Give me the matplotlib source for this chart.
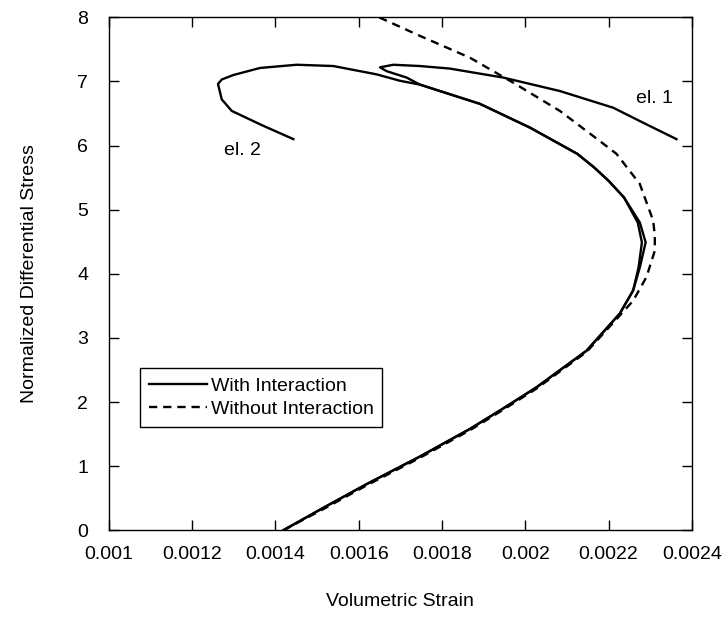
import matplotlib.pyplot as plt

plt.rcParams['font.family'] = ['Liberation Sans', 'DejaVu Sans']

# element 1, with interaction (volumetric strain, normalized stress)
el1_strain = [0.001419, 0.001515, 0.001619, 0.001747, 0.001867, 0.001947, 0.002027,
              0.002147, 0.002227, 0.002259, 0.002272, 0.002280, 0.002270, 0.002237, 0.002200,
              0.002165, 0.002125, 0.002011, 0.001891, 0.001819, 0.001747, 0.001715, 0.001667,
              0.001651, 0.001683, 0.001747, 0.001819, 0.001947, 0.002083, 0.002211, 0.002291,
              0.002363]
el1_stress = [0.0, 0.35, 0.72, 1.15, 1.58, 1.90, 2.23,
              2.80, 3.38, 3.74, 4.10, 4.49, 4.80, 5.19, 5.45,
              5.66, 5.87, 6.28, 6.65, 6.80, 6.95, 7.06, 7.16,
              7.22, 7.26, 7.24, 7.20, 7.06, 6.85, 6.59, 6.33,
              6.10]

# element 2, with interaction
el2_strain = [0.001419, 0.001515, 0.001619, 0.001747, 0.001867, 0.001947, 0.002027,
              0.002147, 0.002227, 0.002259, 0.002275, 0.002289, 0.002275, 0.002237, 0.002200,
              0.002165, 0.002125, 0.002011, 0.001891, 0.001819, 0.001747, 0.001699, 0.001643,
              0.001539, 0.001451, 0.001363, 0.001299, 0.001271, 0.001262, 0.001271, 0.001295,
              0.001370, 0.001443]
el2_stress = [0.0, 0.35, 0.72, 1.15, 1.58, 1.90, 2.23,
              2.80, 3.38, 3.74, 4.10, 4.49, 4.80, 5.19, 5.45,
              5.66, 5.87, 6.28, 6.65, 6.80, 6.95, 7.01, 7.11,
              7.24, 7.26, 7.21, 7.10, 7.03, 6.96, 6.72, 6.54,
              6.31, 6.10]

# without interaction
no_int_strain = [0.001419, 0.001515, 0.001619, 0.001747, 0.001867, 0.001947, 0.002027,
                 0.002147, 0.002227, 0.002259, 0.002291, 0.002311, 0.002311, 0.002307,
                 0.002275, 0.002219, 0.002179, 0.002083, 0.001971, 0.001867, 0.001747,
                 0.001659, 0.001630]
no_int_stress = [0.0, 0.33, 0.70, 1.13, 1.56, 1.88, 2.21,
                 2.78, 3.35, 3.58, 3.95, 4.36, 4.60, 4.83,
                 5.40, 5.87, 6.07, 6.54, 6.98, 7.37, 7.71,
                 7.97, 8.05]

x_ticks = [0.001, 0.0012, 0.0014, 0.0016, 0.0018, 0.002, 0.0022, 0.0024]
x_labels = ['0.001', '0.0012', '0.0014', '0.0016', '0.0018', '0.002', '0.0022', '0.0024']
y_ticks = [0, 1, 2, 3, 4, 5, 6, 7, 8]

fig = plt.figure(figsize=(7.26, 6.18), dpi=100)
ax = fig.add_axes([0.150, 0.142, 0.803, 0.830])

ax.plot(el1_strain, el1_stress, color='black', lw=1.7, label='With Interaction')
ax.plot(el2_strain, el2_stress, color='black', lw=1.7)
ax.plot(no_int_strain, no_int_stress, color='black', lw=1.7, dashes=(3.5, 2.5),
        label='Without Interaction')

ax.text(0.002311, 6.74, 'el. 1', fontsize=14, ha='center', va='center')
ax.text(0.001321, 5.93, 'el. 2', fontsize=14, ha='center', va='center')

ax.set_xlim(0.001, 0.0024)
ax.set_ylim(0, 8)
ax.set_xticks(x_ticks)
ax.set_xticklabels(x_labels)
ax.set_yticks(y_ticks)
ax.tick_params(axis='both', direction='in', top=True, right=True, length=7, width=1,
               labelsize=14)
ax.tick_params(axis='x', pad=11)
ax.tick_params(axis='y', pad=15)
for s in ax.spines.values():
    s.set_linewidth(1)

ax.set_xlabel('Volumetric Strain', fontsize=14, labelpad=22)
ax.set_ylabel('Normalized Differential Stress', fontsize=14, labelpad=28)

leg = ax.legend(loc='upper left', bbox_to_anchor=(0.053, 0.316), fontsize=14,
                fancybox=False, framealpha=1, edgecolor='black', handlelength=3.0,
                handletextpad=0.2, borderpad=0.45, labelspacing=0.3, borderaxespad=0)
leg.get_frame().set_linewidth(1)

fig.savefig('out.png', dpi=100)
